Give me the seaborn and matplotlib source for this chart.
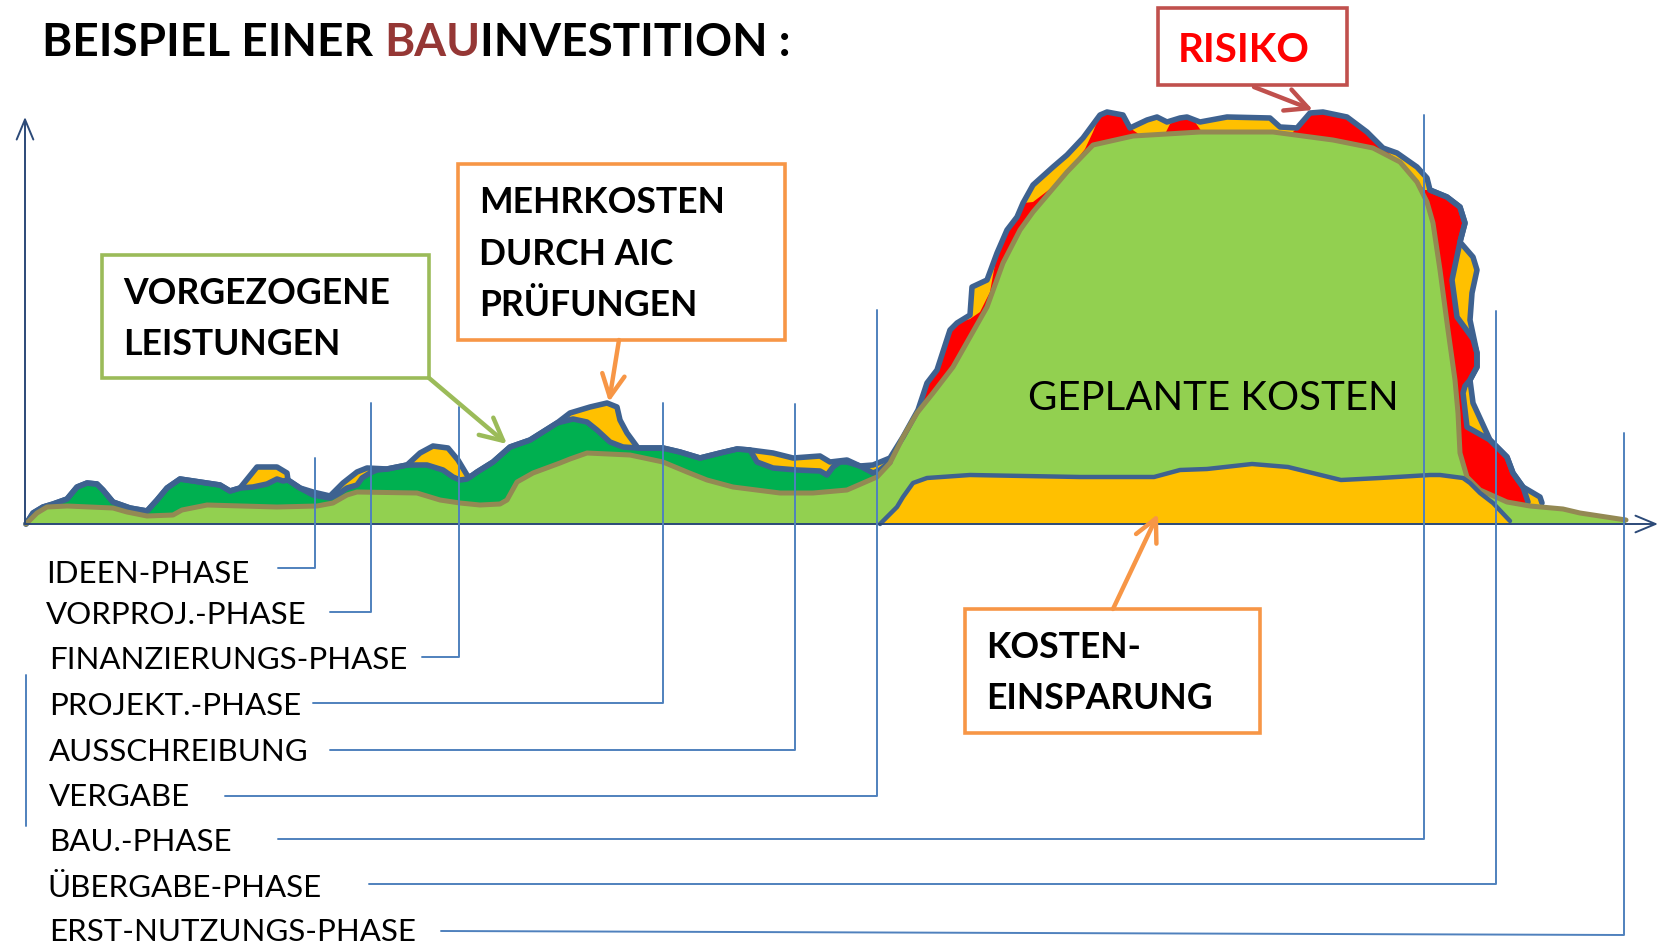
import numpy as np
import matplotlib
matplotlib.use("Agg")
import matplotlib.pyplot as plt
import seaborn as sns
from matplotlib.patches import Rectangle

# ---------------- data (x = time position, value = cost height) ----------------
planned = [(26, 0), (37, 11), (47, 17), (67, 18), (113, 16), (127, 12), (147, 8), (173, 9), (182, 14),
           (207, 19), (277, 17), (317, 18), (333, 21), (347, 29), (357, 32), (417, 31), (440, 24),
           (460, 21), (480, 19), (500, 20), (507, 24), (517, 42), (533, 51), (560, 61), (570, 65),
           (587, 71), (630, 69), (663, 62), (687, 52), (707, 44), (733, 37), (780, 31), (813, 31),
           (847, 34), (870, 44), (877, 47), (890, 61), (903, 87), (917, 111), (933, 131), (953, 157),
           (970, 187), (987, 217), (1003, 261), (1020, 294), (1033, 312), (1067, 352), (1093, 379),
           (1133, 388), (1200, 392), (1273, 392), (1333, 384), (1373, 376), (1400, 362), (1417, 342),
           (1427, 322), (1433, 301), (1440, 254), (1448, 194), (1455, 144), (1458, 111), (1460, 71),
           (1467, 47), (1480, 34), (1507, 22), (1530, 18), (1563, 15), (1580, 11), (1626, 4)]

total = [(26, 0), (33, 11), (43, 17), (53, 20), (67, 25), (77, 37), (87, 41), (97, 40), (103, 34),
         (113, 22), (130, 16), (147, 13), (157, 24), (167, 36), (180, 45), (200, 42), (220, 39),
         (230, 33), (240, 36), (257, 57), (277, 57), (287, 51), (288, 44), (300, 36), (313, 32),
         (330, 28), (343, 41), (357, 52), (367, 56), (387, 55), (407, 59), (420, 71), (433, 78),
         (448, 76), (458, 64), (467, 49), (470, 47), (477, 52), (493, 62), (510, 77), (530, 84),
         (557, 101), (570, 111), (590, 117), (607, 121), (617, 117), (620, 104), (627, 91), (638, 76),
         (663, 76), (680, 72), (700, 66), (720, 71), (737, 75), (750, 74), (773, 71), (793, 66),
         (820, 68), (830, 62), (847, 64), (860, 58), (873, 59), (890, 66), (903, 87), (918, 114),
         (927, 141), (937, 154), (950, 194), (957, 201), (970, 209), (972, 237), (987, 244),
         (997, 271), (1007, 294), (1017, 307), (1023, 321), (1033, 339), (1053, 357), (1067, 369),
         (1083, 386), (1100, 409), (1107, 412), (1123, 409), (1130, 396), (1147, 404), (1157, 407),
         (1167, 402), (1180, 406), (1187, 407), (1200, 402), (1227, 407), (1270, 406), (1280, 397),
         (1297, 396), (1310, 411), (1323, 412), (1347, 407), (1367, 392), (1383, 376), (1397, 371),
         (1417, 357), (1427, 346), (1430, 334), (1447, 327), (1460, 317), (1465, 301), (1460, 282),
         (1473, 267), (1477, 254), (1472, 231), (1470, 204), (1477, 171), (1477, 157), (1470, 144),
         (1473, 121), (1490, 84), (1500, 74), (1507, 67), (1513, 51), (1523, 37), (1540, 27),
         (1542, 21)]

advance = [(26, 0), (33, 11), (43, 17), (53, 20), (67, 25), (77, 37), (87, 41), (97, 40), (103, 34),
           (113, 22), (130, 16), (147, 13), (157, 24), (167, 36), (180, 45), (200, 42), (220, 39),
           (230, 33), (240, 36), (253, 37), (267, 40), (277, 45), (283, 43), (288, 44), (300, 36),
           (313, 29), (330, 26), (337, 29), (347, 36), (357, 39), (362, 46), (370, 51), (377, 54),
           (387, 55), (407, 59), (413, 59), (427, 59), (443, 54), (453, 47), (460, 44), (467, 45),
           (470, 47), (477, 52), (493, 62), (510, 77), (530, 84), (557, 101), (573, 105), (587, 102),
           (597, 94), (610, 82), (623, 77), (638, 76), (663, 76), (680, 72), (700, 66), (720, 71),
           (737, 75), (750, 74), (757, 62), (773, 56), (797, 54), (820, 53), (827, 49), (833, 57),
           (840, 62), (847, 62), (860, 58), (873, 51), (880, 54), (890, 62)]

risk_upper = [(885, 62), (895, 72), (903, 87), (918, 114), (927, 141), (937, 154), (950, 194),
              (957, 201), (970, 205), (980, 212), (990, 232), (997, 271), (1007, 294), (1017, 307),
              (1023, 321), (1033, 322), (1050, 335), (1067, 352), (1085, 375), (1093, 392),
              (1100, 409), (1107, 412), (1123, 409), (1130, 396), (1140, 389), (1165, 390),
              (1170, 400), (1180, 406), (1187, 407), (1195, 402), (1202, 392), (1273, 392),
              (1292, 391), (1297, 396), (1310, 411), (1323, 412), (1347, 407), (1367, 392),
              (1383, 376), (1390, 370), (1400, 362), (1417, 342), (1425, 334)]
risk_flank = [(1430, 334), (1447, 327), (1460, 317), (1465, 301), (1460, 282), (1452, 244),
              (1457, 207), (1468, 192), (1473, 185), (1477, 171), (1477, 157), (1470, 144),
              (1465, 138), (1463, 131), (1467, 97), (1490, 84), (1500, 74), (1507, 67), (1513, 51),
              (1523, 37), (1528, 22)]

savings = [(880, 0), (897, 17), (903, 27), (913, 41), (927, 46), (970, 49), (1080, 47), (1154, 47),
           (1180, 54), (1207, 55), (1252, 60), (1288, 57), (1341, 44), (1380, 46), (1430, 49),
           (1440, 49), (1463, 46), (1470, 41), (1480, 31), (1493, 21), (1510, 3)]

phase_names = ["IDEEN-PHASE", "VORPROJ.-PHASE", "FINANZIERUNGS-PHASE", "PROJEKT.-PHASE",
               "AUSSCHREIBUNG", "VERGABE", "BAU.-PHASE", "ÜBERGABE-PHASE", "ERST-NUTZUNGS-PHASE"]
phase_x = [315, 371, 459, 663, 795, 877, 1424, 1496, 1624]

title_parts = ["BEISPIEL EINER", "BAU", "INVESTITION :"]
box_vorgezogen = ["VORGEZOGENE", "LEISTUNGEN"]
box_mehrkosten = ["MEHRKOSTEN", "DURCH AIC", "PRÜFUNGEN"]
box_einsparung = ["KOSTEN-", "EINSPARUNG"]
label_risiko = "RISIKO"
label_geplant = "GEPLANTE KOSTEN"

# ---------------- layout (pixel rows of the picture; text rows are baselines) ----------------
phase_top = [458, 403, 407, 403, 404, 310, 115, 311, 433]
phase_label_y = [583, 624, 669, 715, 761, 806, 851, 897, 941]
phase_conn_y = [568, 612, 657, 703, 750, 796, 839, 884, 931]
phase_conn_x0 = [278, 330, 422, 313, 330, 225, 278, 369, 441]
phase_label_x = [46, 46, 49, 49, 49, 49, 49, 47, 49]

C_LIGHT = "#92D050"
C_DARK = "#00B050"
C_YEL = "#FFC000"
C_RED = "#FF0000"
C_BLUE = "#3E6290"
C_OLIVE = "#938953"
C_PHASE = "#4F81BD"
C_AXIS = "#2C4A78"

sns.set_theme(style="white")
plt.rcParams['font.family'] = ['Lato', 'DejaVu Sans']

W, H = 1666, 944
BASE = 524
fig = plt.figure(figsize=(W / 100, H / 100), dpi=100)
ax = fig.add_axes([0, 0, 1, 1])


def py(p):
    return BASE - p


def xy(pts):
    a = np.array(pts, float)
    return a[:, 0], a[:, 1]


def area(pts, color, z):
    x, y = xy(pts)
    x = np.r_[x[0], x, x[-1]]
    y = np.r_[0, y, 0]
    ax.fill(x, y, color=color, lw=0, zorder=z)


def line(pts, color, lw, z):
    x, y = xy(pts)
    sns.lineplot(x=x, y=y, sort=False, estimator=None, color=color, linewidth=lw, ax=ax,
                 zorder=z, solid_joinstyle='round', solid_capstyle='round')


# areas
area(total, C_YEL, 1)
area(advance, C_DARK, 2)
area(risk_upper + risk_flank, C_RED, 2)
area(planned, C_LIGHT, 3)
line(advance, C_BLUE, 4.0, 4)
line(risk_flank, C_BLUE, 4.0, 4)
line(total, C_BLUE, 4.0, 4)
line(planned, C_OLIVE, 3.6, 5)
area(savings, C_YEL, 6)
line(savings, C_BLUE, 3.2, 7)

ax.set_xlim(0, W)
ax.set_ylim(BASE - H, BASE)
ax.axis("off")

# axes arrows
arrow_axis = dict(arrowstyle="->,head_length=1.2,head_width=0.5", color=C_AXIS, lw=1.4,
                  shrinkA=0, shrinkB=0)
ax.annotate("", xy=(25, py(117)), xytext=(25, 0), arrowprops=arrow_axis, zorder=9)
ax.annotate("", xy=(1658, 0), xytext=(25, 0), arrowprops=arrow_axis, zorder=9)

# phase lines and labels
for name, vx, top, ly, cy, cx0, lx in zip(phase_names, phase_x, phase_top, phase_label_y,
                                          phase_conn_y, phase_conn_x0, phase_label_x):
    cy_end = cy + 4 if name.startswith("ERST") else cy
    ax.plot([cx0, vx, vx], [py(cy), py(cy_end), py(top)], color=C_PHASE, lw=1.4, zorder=9)
    ax.text(lx, py(ly), name, fontsize=22.5, color="black", va="baseline", ha="left", zorder=10)
ax.plot([26, 26], [py(675), py(826)], color=C_PHASE, lw=1.4, zorder=9)

# title in three colours
fig.canvas.draw()
rend = fig.canvas.get_renderer()
inv = ax.transData.inverted()


def text_width(s, **kw):
    t = ax.text(0, 0, s, **kw)
    bb = t.get_window_extent(renderer=rend)
    t.remove()
    return bb.width


tkw = dict(fontsize=33, fontweight="bold")
space_w = text_width("X X", **tkw) - text_width("XX", **tkw)
x_cur = 42
for part, col in zip(title_parts, ["black", "#953735", "black"]):
    t = ax.text(x_cur, py(56), part, color=col, va="baseline", ha="left", zorder=10, **tkw)
    bb = t.get_window_extent(renderer=rend)
    x_end = inv.transform((bb.x1, bb.y0))[0]
    x_cur = x_end + (space_w if part == title_parts[0] else 0)


def box(x0, y0, x1, y1, color):
    ax.add_patch(Rectangle((x0, py(y1)), x1 - x0, y1 - y0, fill=True, facecolor="white",
                           edgecolor=color, lw=2.6, zorder=10))


def arrow(tail, tip, color):
    ax.annotate("", xy=(tip[0], py(tip[1])), xytext=(tail[0], py(tail[1])),
                arrowprops=dict(arrowstyle="->,head_length=0.9,head_width=0.45", color=color,
                                lw=3.2, shrinkA=0, shrinkB=0, mutation_scale=18), zorder=10)


bkw = dict(fontsize=25.6, fontweight="bold", color="black", va="baseline", ha="left", zorder=11)
# VORGEZOGENE LEISTUNGEN
box(102, 255, 429, 378, "#9BBB59")
for s, yy in zip(box_vorgezogen, [304, 355]):
    ax.text(123, py(yy), s, **bkw)
arrow((429, 378), (507, 444), "#9BBB59")

# MEHRKOSTEN
box(458, 164, 785, 340, "#F79646")
for s, yy in zip(box_mehrkosten, [213, 265, 316]):
    ax.text(479, py(yy), s, **bkw)
arrow((619, 340), (609, 402), "#F79646")

# KOSTEN-EINSPARUNG
box(965, 609, 1260, 733, "#F79646")
for s, yy in zip(box_einsparung, [658, 709]):
    ax.text(986, py(yy), s, **bkw)
arrow((1113, 609), (1158, 514), "#F79646")

# RISIKO
box(1158, 8, 1347, 85, "#C0504D")
ax.text(1244, py(62), label_risiko, fontsize=29, fontweight="bold", color=C_RED, ha="center",
        va="baseline", zorder=11)
arrow((1254, 87), (1313, 110), "#C0504D")

# GEPLANTE KOSTEN
ax.text(1028, py(410), label_geplant, fontsize=29, color="black", ha="left", va="baseline",
        zorder=11)

fig.savefig("out.png", dpi=100, facecolor="white")
